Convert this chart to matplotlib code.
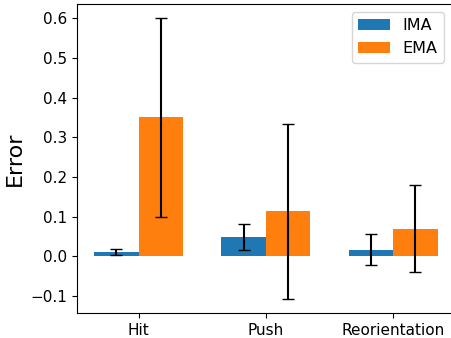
import numpy as np
import matplotlib
matplotlib.use("Agg")
import matplotlib.pyplot as plt

# data
tasks = ["Hit", "Push", "Reorientation"]
ima_mean = [0.011, 0.048, 0.017]
ima_err = [0.0075, 0.033, 0.04]
ema_mean = [0.35, 0.113, 0.07]
ema_err = [0.25, 0.22, 0.11]

x = np.arange(len(tasks))
width = 0.35

fig, ax = plt.subplots(figsize=(4.52, 3.38), dpi=100)
fig.subplots_adjust(left=0.170, right=1.0, bottom=0.074, top=0.988)

ax.bar(x - width / 2, ima_mean, width, yerr=ima_err, capsize=4, label="IMA", color="#1f77b4")
ax.bar(x + width / 2, ema_mean, width, yerr=ema_err, capsize=4, label="EMA", color="#ff7f0e")

ax.set_xticks(x)
ax.set_xticklabels(tasks)
ax.set_ylabel("Error", fontsize=16)
ax.tick_params(labelsize=11)
ax.set_ylim(-0.143, 0.636)
ax.set_xlim(-0.486, 2.463)
ax.legend(fontsize=11.5)

plt.savefig("out.png", dpi=100)
